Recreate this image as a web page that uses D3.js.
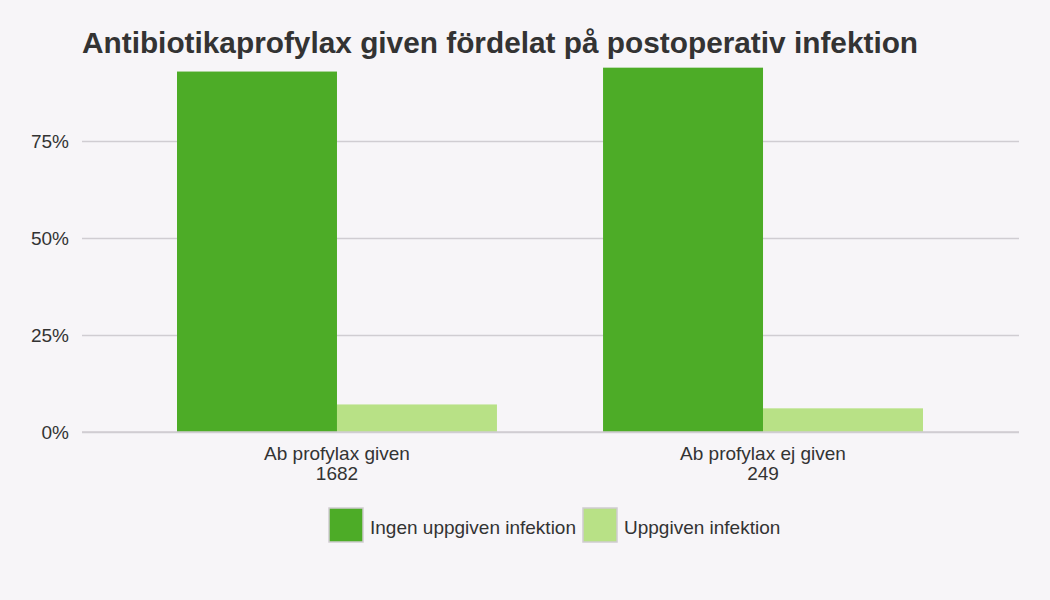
<!DOCTYPE html>
<html>
<head>
<meta charset="utf-8">
<script src="https://cdn.jsdelivr.net/npm/d3@7"></script>
<style>
  body { margin: 0; background: #f7f5f8; }
  svg { display: block; font-family: "Liberation Sans", Arial, sans-serif; }
</style>
</head>
<body>
<div id="chart"></div>
<script>
// Data
const categories = ["Ab profylax given", "Ab profylax ej given"];
const counts = ["1682", "249"];
const seriesNames = ["Ingen uppgiven infektion", "Uppgiven infektion"];
const noInfection = [0.929, 0.939];
const infection = [0.071, 0.061];
const yTicks = [0, 0.25, 0.5, 0.75];
const colors = ["#4dac27", "#b8e186"];

const width = 1050;
const height = 600;

const svg = d3.select("#chart").append("svg")
    .attr("width", width)
    .attr("height", height);

svg.append("rect")
    .attr("width", width)
    .attr("height", height)
    .attr("fill", "#f7f5f8");

// Scales
const y = d3.scaleLinear()
    .domain([0, 1])
    .range([432, 44]);

const x0 = d3.scaleBand()
    .domain(categories)
    .range([177, 923])
    .paddingInner(0.249)
    .paddingOuter(0);

const x1 = d3.scaleBand()
    .domain(seriesNames)
    .range([0, x0.bandwidth()]);

// Grid lines
const grid = svg.append("g")
    .attr("transform", "translate(82,0)")
    .call(d3.axisLeft(y)
        .tickValues(yTicks)
        .tickSize(-937)
        .tickFormat(d3.format(".0%")));

grid.select(".domain").remove();
grid.selectAll(".tick line")
    .attr("stroke", "#d0cdd2")
    .attr("stroke-width", 1.6);
grid.selectAll(".tick text")
    .attr("x", -13)
    .attr("fill", "#333")
    .style("font-size", "19px");

// Bars
const rows = categories.map((c, i) => ({
    cat: c,
    values: [
        { key: seriesNames[0], value: noInfection[i] },
        { key: seriesNames[1], value: infection[i] }
    ]
}));

const groups = svg.append("g")
    .selectAll("g")
    .data(rows)
    .enter()
    .append("g")
    .attr("transform", d => `translate(${x0(d.cat)},0)`);

groups.selectAll("rect")
    .data(d => d.values)
    .enter()
    .append("rect")
    .attr("x", d => x1(d.key))
    .attr("y", d => y(d.value))
    .attr("width", x1.bandwidth())
    .attr("height", d => y(0) - y(d.value))
    .attr("fill", (d, i) => colors[i]);

// X axis
svg.append("line")
    .attr("x1", 82)
    .attr("x2", 1019)
    .attr("y1", y(0))
    .attr("y2", y(0))
    .attr("stroke", "#d0cdd2")
    .attr("stroke-width", 1.6);

const labels = svg.append("g")
    .selectAll("text")
    .data(categories)
    .enter()
    .append("text")
    .attr("x", d => x0(d) + x0.bandwidth() / 2)
    .attr("y", 460)
    .attr("text-anchor", "middle")
    .attr("fill", "#333")
    .style("font-size", "19px");

labels.append("tspan")
    .attr("x", d => x0(d) + x0.bandwidth() / 2)
    .text(d => d);
labels.append("tspan")
    .attr("x", d => x0(d) + x0.bandwidth() / 2)
    .attr("dy", 20)
    .text((d, i) => counts[i]);

// Title
svg.append("text")
    .attr("x", 82)
    .attr("y", 53)
    .attr("fill", "#333")
    .style("font-size", "29.8px")
    .style("font-weight", "bold")
    .text("Antibiotikaprofylax given fördelat på postoperativ infektion");

// Legend
const legendX = [329, 583];
const legend = svg.append("g")
    .selectAll("g")
    .data(seriesNames)
    .enter()
    .append("g")
    .attr("transform", (d, i) => `translate(${legendX[i]},508)`);

legend.append("rect")
    .attr("width", 34)
    .attr("height", 34)
    .attr("fill", (d, i) => colors[i])
    .attr("stroke", "#cfcccf")
    .attr("stroke-width", 1.5);

legend.append("text")
    .attr("x", 41)
    .attr("y", 26)
    .attr("fill", "#333")
    .style("font-size", "19px")
    .text(d => d);
</script>
</body>
</html>
